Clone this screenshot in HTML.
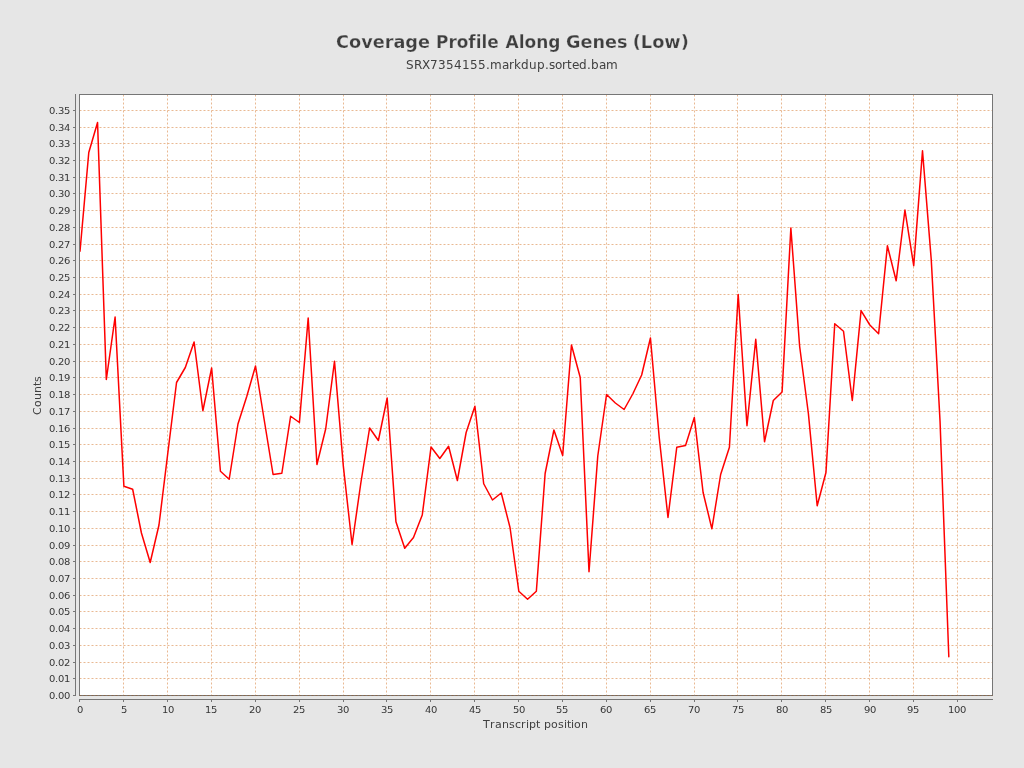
<!DOCTYPE html>
<html><head><meta charset="utf-8"><title>Coverage Profile Along Genes (Low)</title>
<style>
html,body{margin:0;padding:0;background:#e6e6e6;}
body{width:1024px;height:768px;overflow:hidden;}
svg{display:block;font-family:"DejaVu Sans","Liberation Sans",sans-serif;}
text{white-space:pre;font-kerning:none;font-variant-ligatures:none;}
</style></head><body>
<svg width="1024" height="768" viewBox="0 0 1024 768">
<defs><clipPath id="c"><rect x="80" y="95" width="913" height="601"/></clipPath></defs>
<rect x="0" y="0" width="1024" height="768" fill="#e6e6e6"/>
<text y="48" font-size="18" font-weight="bold" fill="#3e3e3e" stroke="#e6e6e6" stroke-width="0.25" paint-order="fill stroke"><tspan x="336.00" textLength="94.00" lengthAdjust="spacingAndGlyphs">Coverage</tspan> <tspan x="436.00" textLength="62.70" lengthAdjust="spacingAndGlyphs">Profile</tspan> <tspan x="505.50" textLength="55.00" lengthAdjust="spacingAndGlyphs">Along</tspan> <tspan x="566.00" textLength="61.50" lengthAdjust="spacingAndGlyphs">Genes</tspan> <tspan x="632.70" textLength="56.20" lengthAdjust="spacingAndGlyphs">(Low)</tspan></text>
<text x="406 414 422 430 438 446 454 462 470 478 486 490 502 509 514 521 529 537 545 549 555 562 567 572 579 587 591 599 606" y="68.5" font-size="12" fill="#404040">SRX7354155.markdup.sorted.bam</text>
<rect x="79.5" y="94.5" width="913.0" height="601.0" fill="#ffffff"/>
<g stroke="#e9b992" stroke-width="1" stroke-dasharray="2 2" fill="none">
<path d="M79.5 695.5H992.5M79.5 678.5H992.5M79.5 662.5H992.5M79.5 645.5H992.5M79.5 628.5H992.5M79.5 611.5H992.5M79.5 595.5H992.5M79.5 578.5H992.5M79.5 561.5H992.5M79.5 545.5H992.5M79.5 528.5H992.5M79.5 511.5H992.5M79.5 494.5H992.5M79.5 478.5H992.5M79.5 461.5H992.5M79.5 444.5H992.5M79.5 428.5H992.5M79.5 411.5H992.5M79.5 394.5H992.5M79.5 377.5H992.5M79.5 361.5H992.5M79.5 344.5H992.5M79.5 327.5H992.5M79.5 310.5H992.5M79.5 294.5H992.5M79.5 277.5H992.5M79.5 260.5H992.5M79.5 244.5H992.5M79.5 227.5H992.5M79.5 210.5H992.5M79.5 193.5H992.5M79.5 177.5H992.5M79.5 160.5H992.5M79.5 143.5H992.5M79.5 127.5H992.5M79.5 110.5H992.5"/>
<path d="M79.5 94.5V695.5M123.5 94.5V695.5M167.5 94.5V695.5M211.5 94.5V695.5M255.5 94.5V695.5M299.5 94.5V695.5M343.5 94.5V695.5M386.5 94.5V695.5M430.5 94.5V695.5M474.5 94.5V695.5M518.5 94.5V695.5M562.5 94.5V695.5M606.5 94.5V695.5M650.5 94.5V695.5M694.5 94.5V695.5M737.5 94.5V695.5M781.5 94.5V695.5M825.5 94.5V695.5M869.5 94.5V695.5M913.5 94.5V695.5M957.5 94.5V695.5"/>
</g>
<path d="M80.00 251.25L88.78 152.50L97.55 122.50L106.33 379.50L115.10 317.00L123.88 486.25L132.66 489.25L141.43 533.00L150.21 562.50L158.98 525.00L167.76 453.50L176.54 382.50L185.31 367.50L194.09 342.00L202.86 410.75L211.64 368.00L220.42 471.25L229.19 479.25L237.97 424.00L246.74 396.50L255.52 366.00L264.30 420.50L273.07 474.50L281.85 473.25L290.62 416.25L299.40 422.50L308.18 318.00L316.95 464.50L325.73 428.75L334.50 361.25L343.28 465.60L352.06 544.50L360.83 483.00L369.61 428.00L378.38 440.50L387.16 398.00L395.94 521.75L404.71 548.25L413.49 537.50L422.26 515.00L431.04 447.00L439.82 458.50L448.59 446.25L457.37 480.50L466.14 432.50L474.92 406.25L483.70 483.75L492.47 500.00L501.25 493.00L510.02 527.50L518.80 591.25L527.58 599.25L536.35 591.25L545.13 473.50L553.90 430.00L562.68 455.50L571.46 345.00L580.23 377.50L589.01 571.75L597.78 456.00L606.56 394.50L615.34 403.00L624.11 409.50L632.89 393.75L641.66 375.00L650.44 338.00L659.22 437.50L667.99 517.50L676.77 447.25L685.54 445.50L694.32 417.50L703.10 492.50L711.87 528.75L720.65 474.50L729.42 447.25L738.20 294.50L746.98 425.75L755.75 339.25L764.53 441.75L773.30 400.50L782.08 392.00L790.86 228.00L799.63 346.25L808.41 413.75L817.18 505.75L825.96 472.50L834.74 323.75L843.51 331.25L852.29 400.50L861.06 310.60L869.84 325.00L878.62 333.75L887.39 245.75L896.17 280.75L904.94 210.00L913.72 265.75L922.50 150.75L931.27 260.00L940.05 421.50L948.82 656.75" fill="none" stroke="#ff0000" stroke-width="1.5" stroke-linecap="round" stroke-linejoin="round" clip-path="url(#c)"/>
<rect x="79.5" y="94.5" width="913.0" height="601.0" fill="none" stroke="#767676" stroke-width="1"/>
<path d="M79.5 695.5H992.5" stroke="#a05a20" stroke-width="1" stroke-dasharray="2 2" fill="none" opacity="0.5"/>
<g stroke="#767676" stroke-width="1" fill="none" shape-rendering="crispEdges">
<path d="M75.5 94V696M79 699.5H993M73 695.5H75M73 678.5H75M73 662.5H75M73 645.5H75M73 628.5H75M73 611.5H75M73 595.5H75M73 578.5H75M73 561.5H75M73 545.5H75M73 528.5H75M73 511.5H75M73 494.5H75M73 478.5H75M73 461.5H75M73 444.5H75M73 428.5H75M73 411.5H75M73 394.5H75M73 377.5H75M73 361.5H75M73 344.5H75M73 327.5H75M73 310.5H75M73 294.5H75M73 277.5H75M73 260.5H75M73 244.5H75M73 227.5H75M73 210.5H75M73 193.5H75M73 177.5H75M73 160.5H75M73 143.5H75M73 127.5H75M73 110.5H75M79.5 700V702M123.5 700V702M167.5 700V702M211.5 700V702M255.5 700V702M299.5 700V702M343.5 700V702M386.5 700V702M430.5 700V702M474.5 700V702M518.5 700V702M562.5 700V702M606.5 700V702M650.5 700V702M694.5 700V702M737.5 700V702M781.5 700V702M825.5 700V702M869.5 700V702M913.5 700V702M957.5 700V702"/>
</g>
<g font-size="10" fill="#363636" transform="scale(1,0.95)">
<text x="49 55 58 64" y="735.79">0.00</text>
<text x="49 55 58 64" y="717.89">0.01</text>
<text x="49 55 58 64" y="701.05">0.02</text>
<text x="49 55 58 64" y="683.16">0.03</text>
<text x="49 55 58 64" y="665.26">0.04</text>
<text x="49 55 58 64" y="647.37">0.05</text>
<text x="49 55 58 64" y="630.53">0.06</text>
<text x="49 55 58 64" y="612.63">0.07</text>
<text x="49 55 58 64" y="594.74">0.08</text>
<text x="49 55 58 64" y="577.89">0.09</text>
<text x="49 55 58 64" y="560.00">0.10</text>
<text x="49 55 58 64" y="542.11">0.11</text>
<text x="49 55 58 64" y="524.21">0.12</text>
<text x="49 55 58 64" y="507.37">0.13</text>
<text x="49 55 58 64" y="489.47">0.14</text>
<text x="49 55 58 64" y="471.58">0.15</text>
<text x="49 55 58 64" y="454.74">0.16</text>
<text x="49 55 58 64" y="436.84">0.17</text>
<text x="49 55 58 64" y="418.95">0.18</text>
<text x="49 55 58 64" y="401.05">0.19</text>
<text x="49 55 58 64" y="384.21">0.20</text>
<text x="49 55 58 64" y="366.32">0.21</text>
<text x="49 55 58 64" y="348.42">0.22</text>
<text x="49 55 58 64" y="330.53">0.23</text>
<text x="49 55 58 64" y="313.68">0.24</text>
<text x="49 55 58 64" y="295.79">0.25</text>
<text x="49 55 58 64" y="277.89">0.26</text>
<text x="49 55 58 64" y="261.05">0.27</text>
<text x="49 55 58 64" y="243.16">0.28</text>
<text x="49 55 58 64" y="225.26">0.29</text>
<text x="49 55 58 64" y="207.37">0.30</text>
<text x="49 55 58 64" y="190.53">0.31</text>
<text x="49 55 58 64" y="172.63">0.32</text>
<text x="49 55 58 64" y="154.74">0.33</text>
<text x="49 55 58 64" y="137.89">0.34</text>
<text x="49 55 58 64" y="120.00">0.35</text>
<text x="77" y="750.53">0</text>
<text x="121" y="750.53">5</text>
<text x="162 168" y="750.53">10</text>
<text x="205 211" y="750.53">15</text>
<text x="249 255" y="750.53">20</text>
<text x="293 299" y="750.53">25</text>
<text x="337 343" y="750.53">30</text>
<text x="381 387" y="750.53">35</text>
<text x="425 431" y="750.53">40</text>
<text x="469 475" y="750.53">45</text>
<text x="513 519" y="750.53">50</text>
<text x="556 562" y="750.53">55</text>
<text x="600 606" y="750.53">60</text>
<text x="644 650" y="750.53">65</text>
<text x="688 694" y="750.53">70</text>
<text x="732 738" y="750.53">75</text>
<text x="776 782" y="750.53">80</text>
<text x="820 826" y="750.53">85</text>
<text x="864 870" y="750.53">90</text>
<text x="907 913" y="750.53">95</text>
<text x="948 954 960" y="750.53">100</text>
</g>
<text x="483 490 495 502 509 515 521 526 529 536 540 544 551 558 564 567 571 574 581" y="728" font-size="11" fill="#404040">Transcript position</text>
<text transform="translate(41,395.5) rotate(-90)" x="-19.5 -11.5 -4.5 2.5 9.5 13.5" y="0" font-size="11" fill="#404040">Counts</text>
</svg>
</body></html>
